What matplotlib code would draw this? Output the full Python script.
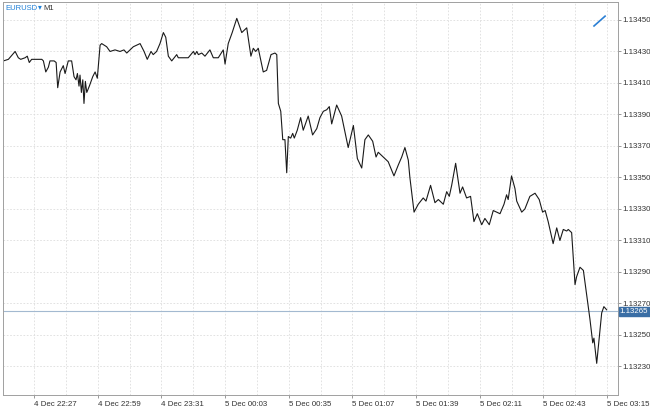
import matplotlib
matplotlib.use("Agg")
import matplotlib.pyplot as plt
from matplotlib.lines import Line2D

# ---- data (minutes relative to 4 Dec 22:27, EURUSD close) ----
minutes = [-15.4, -12.9, -9.5, -7.9, -6.7, -4.5, -3.4, -2.4, -1.2, 3.9, 4.7, 5.9, 7.2, 8.0,
           10.1, 11.1, 11.9, 13.1, 14.7, 15.6, 17.2, 18.9, 20.1, 21.1, 21.8, 22.6, 23.1, 23.8,
           24.5, 25.1, 25.8, 26.5, 27.8, 29.5, 30.7, 31.8, 33.2, 34.0, 36.5, 38.2, 40.7, 43.2,
           45.2, 46.6, 49.9, 53.3, 55.3, 56.9, 58.8, 59.9, 61.6, 63.3, 65.0, 66.2, 67.5, 69.2,
           71.7, 72.5, 74.2, 77.5, 80.1, 80.9, 81.8, 82.6, 84.3, 85.9, 88.4, 90.1, 92.6, 95.1,
           96.0, 97.6, 99.6, 101.9, 104.4, 106.9, 109.0, 110.2, 111.4, 112.7, 115.2, 116.9,
           119.1, 121.1, 122.0, 122.8, 124.0, 125.0, 126.1, 127.0, 127.8, 129.0, 130.0, 130.8,
           132.3, 134.0, 135.3, 137.8, 140.0, 142.1, 143.7, 145.4, 147.1, 148.4, 149.6, 152.1,
           154.6, 157.9, 160.5, 162.5, 164.7, 166.3, 168.0, 170.2, 171.9, 173.0, 175.5, 178.0,
           180.9, 183.1, 184.8, 186.4, 188.1, 188.9, 191.0, 193.1, 195.6, 197.0, 199.3, 201.5,
           203.2, 205.7, 207.4, 208.7, 209.9, 211.9, 214.1, 215.4, 217.4, 219.4, 221.1, 222.8,
           225.0, 226.6, 228.8, 230.8, 234.2, 236.2, 237.5, 238.3, 240.0, 241.7, 242.6, 245.1,
           246.7, 249.2, 251.8, 253.9, 255.6, 256.9, 258.4, 260.9, 262.7, 264.3, 266.0, 267.7,
           268.5, 270.2, 271.9, 272.7, 274.4, 276.1, 277.7, 279.4, 280.8, 281.4, 282.8, 284.1,
           285.3, 286.4, 287.8]
prices = [1.13424, 1.13425, 1.13430, 1.13426, 1.13425, 1.13426, 1.13427, 1.13423, 1.13425,
          1.13425, 1.13424, 1.13417, 1.13420, 1.13424, 1.13424, 1.13423, 1.13407, 1.13417,
          1.13421, 1.13416, 1.13424, 1.13424, 1.13414, 1.13412, 1.13416, 1.13408, 1.13415,
          1.13404, 1.13412, 1.13397, 1.13411, 1.13404, 1.13408, 1.13414, 1.13417, 1.13413,
          1.13434, 1.13435, 1.13433, 1.13430, 1.13431, 1.13430, 1.13431, 1.13429, 1.13433,
          1.13435, 1.13430, 1.13425, 1.13430, 1.13428, 1.13430, 1.13435, 1.13442, 1.13439,
          1.13427, 1.13424, 1.13428, 1.13426, 1.13426, 1.13426, 1.13430, 1.13428, 1.13430,
          1.13428, 1.13429, 1.13427, 1.13431, 1.13426, 1.13426, 1.13431, 1.13422, 1.13435,
          1.13442, 1.13451, 1.13442, 1.13445, 1.13427, 1.13432, 1.13430, 1.13432, 1.13417,
          1.13418, 1.13428, 1.13429, 1.13428, 1.13397, 1.13392, 1.13374, 1.13374, 1.13353,
          1.13376, 1.13375, 1.13378, 1.13375, 1.13380, 1.13388, 1.13380, 1.13389, 1.13377,
          1.13381, 1.13388, 1.13392, 1.13393, 1.13395, 1.13384, 1.13396, 1.13389, 1.13369,
          1.13383, 1.13362, 1.13356, 1.13374, 1.13377, 1.13373, 1.13363, 1.13366, 1.13363,
          1.13360, 1.13351, 1.13358, 1.13363, 1.13369, 1.13361, 1.13350, 1.13328, 1.13333,
          1.13337, 1.13335, 1.13345, 1.13334, 1.13336, 1.13333, 1.13341, 1.13338, 1.13345,
          1.13359, 1.13340, 1.13344, 1.13337, 1.13338, 1.13322, 1.13327, 1.13320, 1.13324,
          1.13320, 1.13329, 1.13327, 1.13333, 1.13339, 1.13336, 1.13351, 1.13343, 1.13335,
          1.13328, 1.13330, 1.13338, 1.13340, 1.13336, 1.13328, 1.13329, 1.13322, 1.13308,
          1.13318, 1.13310, 1.13317, 1.13316, 1.13317, 1.13315, 1.13282, 1.13287, 1.13293,
          1.13291, 1.13276, 1.13260, 1.13245, 1.13248, 1.13232, 1.13249, 1.13264, 1.13268,
          1.13266]
current_price = 1.13265
x_tick_minutes = [0, 32, 64, 96, 128, 160, 192, 224, 256, 288]
x_tick_labels = ["4 Dec 22:27", "4 Dec 22:59", "4 Dec 23:31", "5 Dec 00:03", "5 Dec 00:35",
                 "5 Dec 01:07", "5 Dec 01:39", "5 Dec 02:11", "5 Dec 02:43", "5 Dec 03:15"]
y_ticks = [1.13230, 1.13250, 1.13270, 1.13290, 1.13310, 1.13330, 1.13350, 1.13370,
           1.13390, 1.13410, 1.13430, 1.13450]
symbol = "EURUSD"
timeframe = "M1"

FONT = ["Liberation Sans", "DejaVu Sans"]
plt.rcParams["font.family"] = FONT

W, H = 650, 408
fig = plt.figure(figsize=(W / 100, H / 100), dpi=100)
fig.patch.set_facecolor("white")
L, R, B, T = 3, 618, 395, 2
ax = fig.add_axes([L / W, 1 - B / H, (R - L) / W, (B - T) / H])

ax.plot(minutes, prices, color="#1a1a1a", lw=0.8, solid_joinstyle="round")
ax.axhline(current_price, color="#a3b9d0", lw=0.8, zorder=1)

ax.set_xlim(-15.6, 293.5)
ax.set_ylim(1.132119, 1.134614)

# grid
for gx in range(0, 289, 16):
    ax.axvline(gx, color="#dddddd", lw=0.6, dashes=(2, 2), zorder=0)
for gy in y_ticks:
    ax.axhline(gy, color="#dddddd", lw=0.6, dashes=(2, 2), zorder=0)

ax.set_xticks(x_tick_minutes)
ax.set_xticklabels(x_tick_labels, fontsize=5.7, color="#333333")
for lab in ax.get_xticklabels():
    lab.set_horizontalalignment("left")
ax.tick_params(axis="x", length=2.5, width=0.6, color="#888888", pad=1.5)

ax.yaxis.tick_right()
ax.set_yticks(y_ticks)
ax.set_yticklabels([f"{v:.5f}" for v in y_ticks], fontsize=5.7, color="#333333")
ax.tick_params(axis="y", length=2.5, width=0.6, color="#888888", pad=1)

for s in ax.spines.values():
    s.set_color("#a0a0a0")
    s.set_linewidth(0.7)

# current price tag
ax.text(1.003, current_price, f"{current_price:.5f}", transform=ax.get_yaxis_transform(),
        ha="left", va="center", fontsize=5.7, color="white",
        bbox=dict(boxstyle="square,pad=0.15", fc="#3a6ea5", ec="#3a6ea5"), clip_on=False)

# autoscroll icon
ax.add_line(Line2D([0.961, 0.979], [0.939, 0.964], transform=ax.transAxes,
                   color="#2a7fd4", lw=1.2))

# header
fig.text(5 / W, 1 - 8 / H, symbol, fontsize=5.5, color="#1e7fd6", ha="left", va="center")
fig.text(38 / W, 1 - 8 / H, "\u25be", fontsize=5.5, color="#1e7fd6", ha="left", va="center",
         family=FONT)
fig.text(43 / W, 1 - 8 / H, timeframe, fontsize=5.5, color="#333333", ha="left", va="center")

fig.savefig("out.png", dpi=100, facecolor="white")
